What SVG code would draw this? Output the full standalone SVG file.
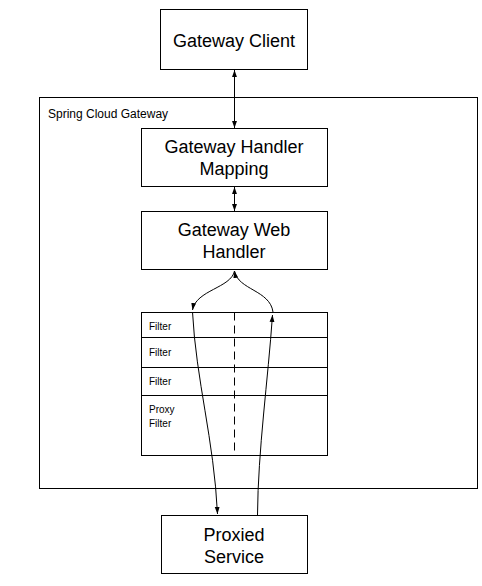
<svg xmlns="http://www.w3.org/2000/svg" width="482" height="586" viewBox="0 0 482 586">
<style>
.box{fill:#fff;stroke:#000;stroke-width:1}
.big{font-family:"Liberation Sans",Arial,sans-serif;font-size:18px;fill:#000;text-anchor:middle}
.small{font-family:"Liberation Sans",Arial,sans-serif;font-size:10px;fill:#000}
.lbl{font-family:"Liberation Sans",Arial,sans-serif;font-size:12px;fill:#000}
.ln{fill:none;stroke:#000;stroke-width:1}
</style>
<defs>
<marker id="ah" viewBox="0 0 8 8" refX="8" refY="4" markerWidth="7" markerHeight="7" markerUnits="userSpaceOnUse" orient="auto-start-reverse">
<path d="M0,1.2 L8,4 L0,6.8 Z" fill="#000"/>
</marker>
</defs>
<rect width="482" height="586" fill="#fff"/>
<g id="spring-cloud-gateway">
<rect class="box" x="39.5" y="97.5" width="438" height="391"/>
<text class="lbl" x="48" y="118">Spring Cloud Gateway</text>
</g>
<g id="gateway-client">
<rect class="box" x="160.5" y="9.5" width="147" height="60"/>
<text class="big" x="234" y="47">Gateway Client</text>
</g>
<g id="handler-mapping">
<rect class="box" x="141.5" y="128.5" width="186" height="58"/>
<text class="big" x="234" y="153">Gateway Handler</text>
<text class="big" x="234" y="175">Mapping</text>
</g>
<g id="web-handler">
<rect class="box" x="141.5" y="211.5" width="186" height="58"/>
<text class="big" x="234" y="236">Gateway Web</text>
<text class="big" x="234" y="258">Handler</text>
</g>
<g id="filters">
<rect class="box" x="141.5" y="312.5" width="186" height="143"/>
<line class="ln" x1="141.5" y1="337.5" x2="327.5" y2="337.5"/>
<line class="ln" x1="141.5" y1="367.5" x2="327.5" y2="367.5"/>
<line class="ln" x1="141.5" y1="395.5" x2="327.5" y2="395.5"/>
<line class="ln" x1="234.5" y1="312.5" x2="234.5" y2="455.5" stroke-dasharray="8,5"/>
<text class="small" x="149" y="330">Filter</text>
<text class="small" x="149" y="356">Filter</text>
<text class="small" x="149" y="385">Filter</text>
<text class="small" x="149" y="413">Proxy</text>
<text class="small" x="149" y="427">Filter</text>
</g>
<g id="proxied-service">
<rect class="box" x="161.5" y="515.5" width="146" height="58"/>
<text class="big" x="234" y="541">Proxied</text>
<text class="big" x="234" y="563">Service</text>
</g>
<g id="connectors">
<line class="ln" x1="234.5" y1="70" x2="234.5" y2="128" marker-start="url(#ah)" marker-end="url(#ah)"/>
<line class="ln" x1="234.5" y1="187" x2="234.5" y2="211" marker-start="url(#ah)" marker-end="url(#ah)"/>
<path class="ln" d="M234.5,271 C231,288 196,290 192.5,310" marker-end="url(#ah)"/>
<path class="ln" d="M192.5,312 C196,380 214,440 217.5,514" marker-end="url(#ah)"/>
<path class="ln" d="M257.5,515 C258,450 268,380 272.5,315" marker-end="url(#ah)"/>
<path class="ln" d="M273,312 C270,290 238,290 234.5,271" marker-end="url(#ah)"/>
</g>
</svg>
